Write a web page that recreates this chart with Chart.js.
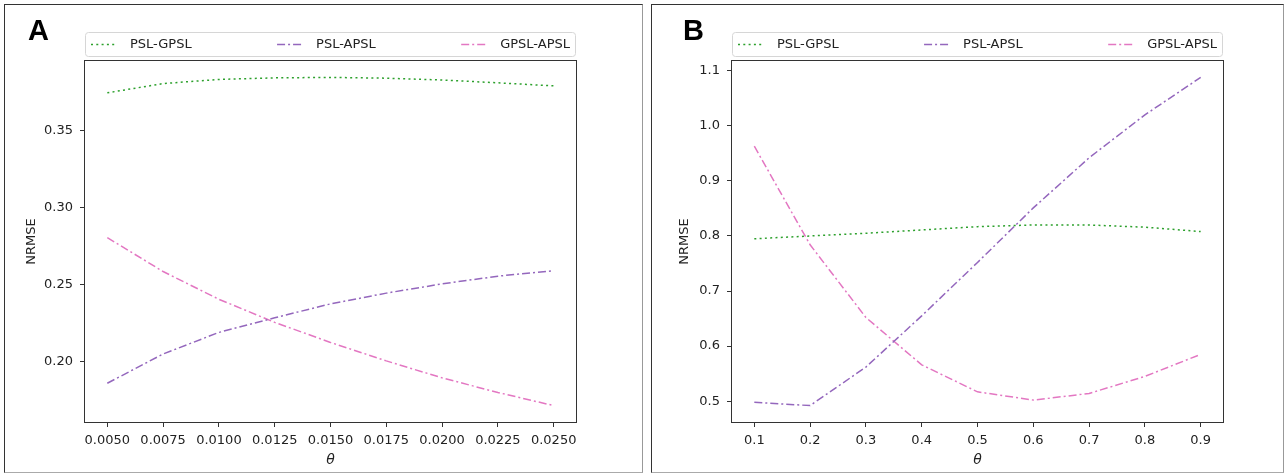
<!DOCTYPE html>
<html>
<head>
<meta charset="utf-8">
<script src="https://cdn.jsdelivr.net/npm/chart.js"></script>
<style>
  body { margin: 0; background: #fff; width: 1286px; height: 474px; position: relative; overflow: hidden; }
  canvas { position: absolute; top: 0; }
  #chartA { left: 0; }
  #chartB { left: 645px; }
  .frame { position: absolute; top: 4px; height: 469px; box-sizing: border-box; pointer-events: none;
           border-top: 1.5px solid #333; border-left: 1.5px solid #333; border-right: 1px solid #999; border-bottom: 1px solid #aaa; }
  .tag { position: absolute; top: 16px; font: bold 29px "Liberation Sans", Arial, sans-serif; line-height: 29px; color: #000; }
</style>
</head>
<body>
<canvas id="chartA" width="640" height="474"></canvas>
<canvas id="chartB" width="641" height="474"></canvas>
<div class="frame" style="left:4px; width:639px;"></div>
<div class="frame" style="left:651px; width:633px;"></div>
<div class="tag" style="left:28px;">A</div>
<div class="tag" style="left:683px;">B</div>
<script>
// panel A data
const thetaA = [0.005, 0.0075, 0.01, 0.0125, 0.015, 0.0175, 0.02, 0.0225, 0.025];
const pslGpslA = [0.3745, 0.3805, 0.3832, 0.3842, 0.3845, 0.3840, 0.3828, 0.3810, 0.3790];
const pslApslA = [0.186, 0.205, 0.219, 0.2285, 0.2375, 0.2445, 0.2505, 0.2555, 0.259];
const gpslApslA = [0.2805, 0.2585, 0.2405, 0.2255, 0.2125, 0.2005, 0.1895, 0.180, 0.1715];
const yTicksA = [0.20, 0.25, 0.30, 0.35];

// panel B data
const thetaB = [0.1, 0.2, 0.3, 0.4, 0.5, 0.6, 0.7, 0.8, 0.9];
const pslGpslB = [0.795, 0.800, 0.805, 0.811, 0.817, 0.820, 0.820, 0.816, 0.808];
const pslApslB = [0.498, 0.492, 0.562, 0.655, 0.752, 0.851, 0.942, 1.020, 1.088];
const gpslApslB = [0.963, 0.784, 0.652, 0.566, 0.517, 0.502, 0.514, 0.545, 0.585];
const yTicksB = [0.5, 0.6, 0.7, 0.8, 0.9, 1.0, 1.1];

const seriesNames = ['PSL-GPSL', 'PSL-APSL', 'GPSL-APSL'];
const seriesColors = ['#2ca02c', '#9467bd', '#e377c2'];
const seriesDash = [[2, 3.3], [8, 3, 2, 3], [8, 3, 2, 3]];

const textColor = '#222';
const axisColor = '#333';
const baseFont = { family: 'DejaVu Sans', size: 13 };

// limits like matplotlib (5% margin)
function padRange(values) {
    const lo = Math.min(...values), hi = Math.max(...values);
    const m = (hi - lo) * 0.05;
    return [lo - m, hi + m];
}

// box around the plot area
const frameBox = {
    id: 'frameBox',
    afterDraw(chart) {
        const { ctx, chartArea: a } = chart;
        ctx.save();
        ctx.strokeStyle = axisColor;
        ctx.lineWidth = 1;
        ctx.strokeRect(Math.round(a.left) - 0.5, Math.round(a.top) - 0.5,
            Math.round(a.right - a.left) + 1, Math.round(a.bottom - a.top) + 1);
        ctx.restore();
    }
};

// matplotlib style legend (ncol=3, expanded over the axes width)
const legendBox = {
    id: 'legendBox',
    afterDraw(chart) {
        const { ctx, chartArea: a } = chart;
        const sets = chart.data.datasets;
        const h = 24, top = a.top - 29, left = a.left, w = a.right - a.left;
        ctx.save();
        ctx.beginPath();
        ctx.roundRect(left + 0.5, top + 0.5, w - 1, h, 3);
        ctx.strokeStyle = '#d6d6d6';
        ctx.lineWidth = 1;
        ctx.stroke();

        ctx.font = '13px "DejaVu Sans"';
        const sample = 26, gap = 13, pad = 6;
        const widths = sets.map(d => ctx.measureText(d.label).width);
        const used = widths.reduce((s, v) => s + v, 0) + sets.length * (sample + gap);
        const between = (w - 2 * pad - used) / (sets.length - 1);
        let x = left + pad;
        const y = top + h / 2 + 0.5;
        sets.forEach((d, i) => {
            ctx.beginPath();
            ctx.setLineDash(d.borderDash);
            ctx.strokeStyle = d.borderColor;
            ctx.lineWidth = d.borderWidth;
            ctx.moveTo(x, y);
            ctx.lineTo(x + sample, y);
            ctx.stroke();
            ctx.setLineDash([]);
            ctx.fillStyle = textColor;
            ctx.textBaseline = 'middle';
            ctx.textAlign = 'left';
            ctx.fillText(d.label, x + sample + gap, y);
            x += sample + gap + widths[i] + between;
        });
        ctx.restore();
    }
};

function makeChart(id, theta, series, yTicks, xDec, yDec, box) {
    const allY = series.flat();
    const [xMin, xMax] = padRange(theta);
    const [yMin, yMax] = padRange(allY);

    return new Chart(document.getElementById(id), {
        type: 'line',
        data: {
            datasets: series.map((vals, i) => ({
                label: seriesNames[i],
                data: theta.map((t, j) => ({ x: t, y: vals[j] })),
                borderColor: seriesColors[i],
                borderDash: seriesDash[i],
                borderWidth: 1.5,
                pointRadius: 0,
                tension: 0,
                fill: false
            }))
        },
        options: {
            responsive: false,
            animation: false,
            devicePixelRatio: 1,
            layout: { padding: { left: 0, right: box.right, top: box.top, bottom: 0 } },
            plugins: { legend: { display: false }, tooltip: { enabled: false } },
            scales: {
                x: {
                    type: 'linear',
                    min: xMin,
                    max: xMax,
                    afterBuildTicks: ax => { ax.ticks = theta.map(v => ({ value: v })); },
                    afterFit: ax => { ax.height = box.bottom; },
                    ticks: {
                        callback: v => v.toFixed(xDec),
                        color: textColor, font: baseFont, padding: 6,
                        maxRotation: 0, autoSkip: false
                    },
                    grid: { display: true, drawOnChartArea: false, drawTicks: true, tickLength: 5, color: axisColor },
                    border: { display: false },
                    title: {
                        display: true, text: 'θ', color: textColor,
                        font: { family: 'DejaVu Sans', size: 14, style: 'italic' },
                        padding: { top: 0, bottom: 5 }
                    }
                },
                y: {
                    min: yMin,
                    max: yMax,
                    afterBuildTicks: ax => { ax.ticks = yTicks.map(v => ({ value: v })); },
                    afterFit: ax => { ax.width = box.left; },
                    ticks: {
                        callback: v => v.toFixed(yDec),
                        color: textColor, font: baseFont, padding: 7, autoSkip: false
                    },
                    grid: { display: true, drawOnChartArea: false, drawTicks: true, tickLength: 5, color: axisColor },
                    border: { display: false },
                    title: {
                        display: true, text: 'NRMSE', color: textColor, font: baseFont,
                        padding: { top: box.titleX, bottom: 0 }
                    }
                }
            }
        },
        plugins: [frameBox, legendBox]
    });
}

makeChart('chartA', thetaA, [pslGpslA, pslApslA, gpslApslA], yTicksA, 4, 2,
    { left: 85, right: 64, top: 61, bottom: 52, titleX: 24 });
makeChart('chartB', thetaB, [pslGpslB, pslApslB, gpslApslB], yTicksB, 1, 1,
    { left: 87, right: 63, top: 61, bottom: 52, titleX: 32 });
</script>
</body>
</html>
